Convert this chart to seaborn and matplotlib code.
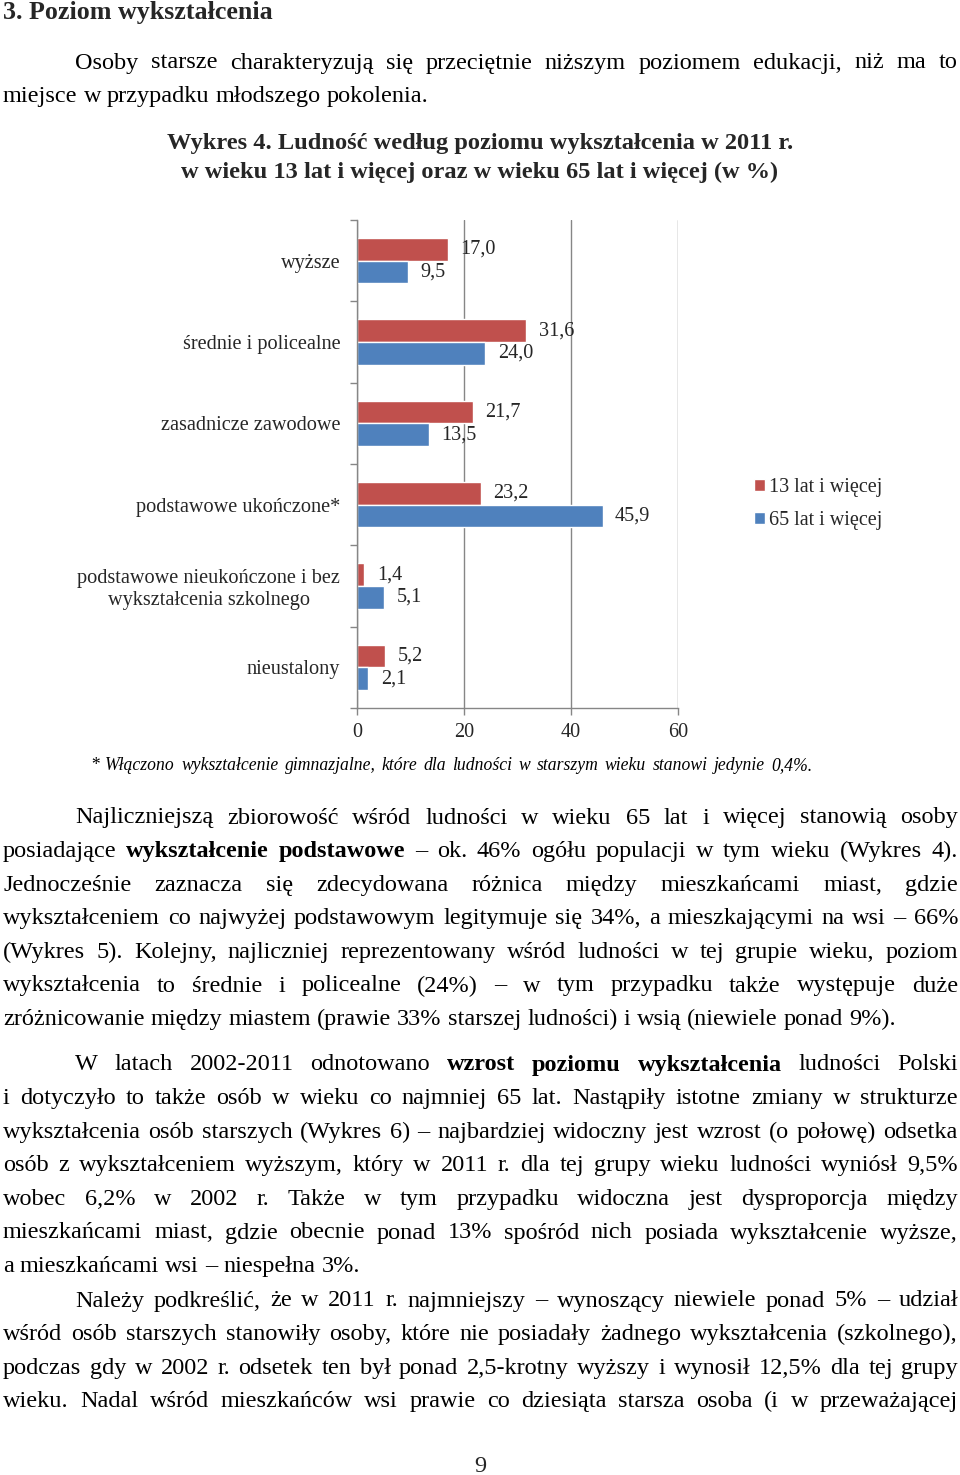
import matplotlib
matplotlib.use('Agg')
import matplotlib.pyplot as plt
import seaborn as sns
import pandas as pd

# dane wykresu ------------------------------------------------------------
kategorie = ['wyższe', 'średnie i policealne', 'zasadnicze zawodowe',
             'podstawowe ukończone*',
             'podstawowe nieukończone i bez\nwykształcenia szkolnego',
             'nieustalony']
grupy = ['13 lat i więcej', '65 lat i więcej']
wartosci_13 = [17.0, 31.6, 21.7, 23.2, 1.4, 5.2]
wartosci_65 = [9.5, 24.0, 13.5, 45.9, 5.1, 2.1]
kolory = ['#C0504D', '#4F81BD']
x_ticki = [0, 20, 40, 60]

df = pd.DataFrame({
    'kategoria': kategorie * 2,
    'grupa': [grupy[0]] * len(kategorie) + [grupy[1]] * len(kategorie),
    'wartosc': wartosci_13 + wartosci_65,
})

# tekst strony ------------------------------------------------------------
naglowek = '3. Poziom wykształcenia'
tytul = ['Wykres 4. Ludność według poziomu wykształcenia w 2011 r.',
         'w wieku 13 lat i więcej oraz w wieku 65 lat i więcej (w %)']
przypis = ('* Włączono wykształcenie gimnazjalne, które dla ludności w starszym '
           'wieku stanowi jedynie 0,4%.')
akapity = [
    (63, True, [
        'Osoby starsze charakteryzują się przeciętnie niższym poziomem edukacji, niż ma to',
        'miejsce w przypadku młodszego pokolenia.']),
    (818, True, [
        'Najliczniejszą zbiorowość wśród ludności w wieku 65 lat i więcej stanowią osoby',
        'posiadające **wykształcenie podstawowe** – ok. 46% ogółu populacji w tym wieku (Wykres 4).',
        'Jednocześnie zaznacza się zdecydowana różnica między mieszkańcami miast, gdzie',
        'wykształceniem co najwyżej podstawowym legitymuje się 34%, a mieszkającymi na wsi – 66%',
        '(Wykres 5). Kolejny, najliczniej reprezentowany wśród ludności w tej grupie wieku, poziom',
        'wykształcenia to średnie i policealne (24%) – w tym przypadku także występuje duże',
        'zróżnicowanie między miastem (prawie 33% starszej ludności) i wsią (niewiele ponad 9%).']),
    (1065, True, [
        'W latach 2002-2011 odnotowano **wzrost poziomu wykształcenia** ludności Polski',
        'i dotyczyło to także osób w wieku co najmniej 65 lat. Nastąpiły istotne zmiany w strukturze',
        'wykształcenia osób starszych (Wykres 6) – najbardziej widoczny jest wzrost (o połowę) odsetka',
        'osób z wykształceniem wyższym, który w 2011 r. dla tej grupy wieku ludności wyniósł 9,5%',
        'wobec 6,2% w 2002 r. Także w tym przypadku widoczna jest dysproporcja między',
        'mieszkańcami miast, gdzie obecnie ponad 13% spośród nich posiada wykształcenie wyższe,',
        'a mieszkańcami wsi – niespełna 3%.']),
    (1301, False, [
        'Należy podkreślić, że w 2011 r. najmniejszy – wynoszący niewiele ponad 5% – udział',
        'wśród osób starszych stanowiły osoby, które nie posiadały żadnego wykształcenia (szkolnego),',
        'podczas gdy w 2002 r. odsetek ten był ponad 2,5-krotny wyższy i wynosił 12,5% dla tej grupy',
        'wieku. Nadal wśród mieszkańców wsi prawie co dziesiąta starsza osoba (i w przeważającej']),
]

W, H = 960, 1475
sns.set_theme(style='white')
plt.rcParams['font.family'] = ['Liberation Serif', 'DejaVu Serif']

fig = plt.figure(figsize=(W / 100, H / 100), dpi=100)
renderer = fig.canvas.get_renderer()


def fy(y):
    return 1 - y / H


def linia(tekst, x0, x1, y, size, justuj=True, style='normal'):
    # rozklada slowa w linii od x0 do x1 (wyjustowanie jak w edytorze)
    slowa = []
    gruby = False
    for s in tekst.split(' '):
        start = s.startswith('**')
        if start:
            gruby = True
            s = s[2:]
        koniec = s.endswith('**')
        if koniec:
            s = s[:-2]
        slowa.append((s, 'bold' if gruby else 'normal'))
        if koniec:
            gruby = False
    arts = [fig.text(0, fy(y), s, fontsize=size, fontweight=w, style=style,
                     va='center', ha='left', color='black') for s, w in slowa]
    szer = [a.get_window_extent(renderer).width for a in arts]
    spacja = 0.25 * size * 100 / 72
    if justuj and len(arts) > 1:
        spacja = (x1 - x0 - sum(szer)) / (len(arts) - 1)
    x = x0
    for a, s in zip(arts, szer):
        a.set_x(x / W)
        x += s + spacja


ROZMIAR = 17.5
fig.text(3 / W, fy(12), naglowek, fontsize=18.7, fontweight='bold', va='center')
for y, ostatnia_lewo, linie in akapity:
    for i, t in enumerate(linie):
        x0 = 75 if i == 0 else 3
        just = not (ostatnia_lewo and i == len(linie) - 1)
        linia(t, x0, 958, y + i * 33.6, ROZMIAR, justuj=just)

fig.text(480 / W, fy(144), tytul[0], fontsize=17.6, fontweight='bold', ha='center', va='center')
fig.text(480 / W, fy(172), tytul[1], fontsize=17.6, fontweight='bold', ha='center', va='center')
linia(przypis, 90, 812, 766, 12.7, justuj=True, style='italic')
fig.text(480 / W, fy(1467), '9', fontsize=ROZMIAR, ha='center', va='center')

# wykres ------------------------------------------------------------------
ax = fig.add_axes([357 / W, fy(708), (678 - 357) / W, (708 - 220) / H])
sns.barplot(data=df, y='kategoria', x='wartosc', hue='grupa', hue_order=grupy,
            palette=kolory, width=0.56, orient='h', saturation=1, ax=ax)

for kont, vals in zip(ax.containers, [wartosci_13, wartosci_65]):
    ax.bar_label(kont, labels=[f'{v:.1f}'.replace('.', ',') for v in vals],
                 padding=9, fontsize=14.6)

ax.set_xlim(x_ticki[0], x_ticki[-1])
ax.set_ylim(len(kategorie) - 0.5, -0.5)
ax.set_xticks(x_ticki)
ax.set_xlabel('')
ax.set_ylabel('')
ax.grid(axis='x', color='#868686', lw=1)
ax.set_axisbelow(True)
ax.spines['top'].set_visible(False)
ax.spines['right'].set_visible(False)
for s in ['left', 'bottom']:
    ax.spines[s].set_color('#868686')
    ax.spines[s].set_linewidth(1)

ax.set_yticks([i - 0.5 for i in range(len(kategorie) + 1)], minor=True)
ax.tick_params(axis='y', which='major', length=0, pad=12, labelsize=14.6)
ax.tick_params(axis='y', which='minor', left=True, length=5, width=1, color='#868686')
ax.tick_params(axis='x', bottom=True, length=5, width=1, color='#868686',
               labelsize=14.6, pad=6)
for lbl in ax.get_yticklabels():
    lbl.set_multialignment('center')

sns.move_legend(ax, 'upper left', bbox_to_anchor=(744 / W, fy(468)),
                bbox_transform=fig.transFigure, title=None, frameon=False,
                fontsize=14.5, handlelength=0.55, handleheight=0.55,
                handletextpad=0.2, labelspacing=0.7, borderpad=0)

fig.savefig('out.png', dpi=100)
